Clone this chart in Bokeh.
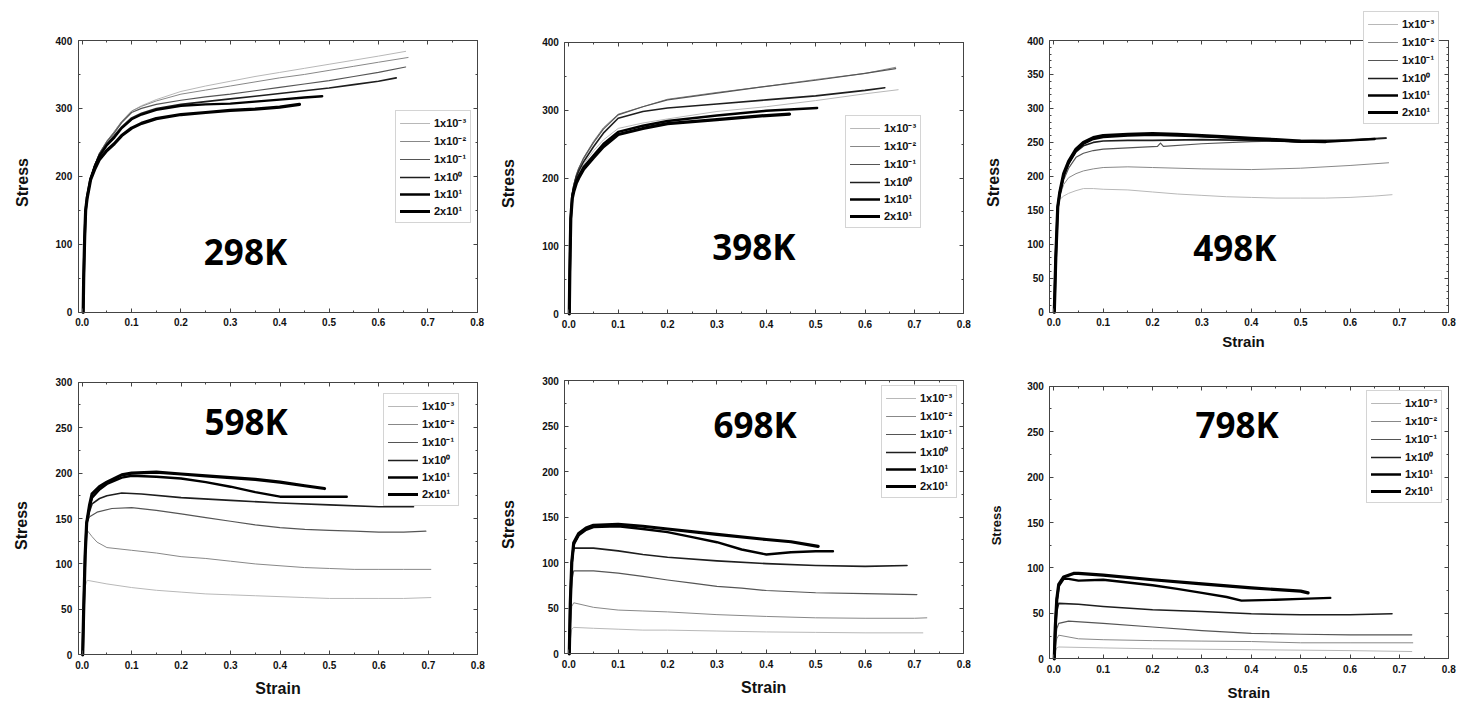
import math
from bokeh.plotting import figure
from bokeh.layouts import row, column
from bokeh.models import (LinearAxis, SingleIntervalTicker, PrintfTickFormatter,
                          Legend, LegendItem, Label, Range1d)
from bokeh.embed import file_html
from bokeh.resources import INLINE

# ---------------- data ----------------
rate_labels = ["1x10\u207b\u00b3", "1x10\u207b\u00b2", "1x10\u207b\u00b9",
               "1x10\u2070", "1x10\u00b9", "2x10\u00b9"]
temp_labels = ["298K", "398K", "498K", "598K", "698K", "798K"]
x_ticks_fmt = "%.1f"

# 298 K
strain_298_1 = [0.002, 0.003, 0.005, 0.007, 0.01, 0.017, 0.025, 0.035, 0.05, 0.065, 0.08, 0.1, 0.12, 0.15, 0.2, 0.25, 0.3, 0.35, 0.4, 0.45, 0.5, 0.55, 0.6, 0.655]
stress_298_1 = [0, 50, 110, 150, 170, 197, 216, 234, 252, 266, 281, 296, 304, 313, 325, 333, 340, 347, 353, 359, 365, 371, 377, 384]
strain_298_2 = [0.002, 0.003, 0.005, 0.007, 0.01, 0.017, 0.025, 0.035, 0.05, 0.065, 0.08, 0.1, 0.12, 0.15, 0.2, 0.25, 0.3, 0.35, 0.4, 0.45, 0.5, 0.55, 0.6, 0.66]
stress_298_2 = [0, 50, 110, 150, 170, 197, 216, 234, 252, 266, 281, 296, 303, 311, 321, 327, 333, 339, 345, 350, 356, 362, 368, 375]
strain_298_3 = [0.002, 0.003, 0.005, 0.007, 0.01, 0.017, 0.025, 0.035, 0.05, 0.065, 0.08, 0.1, 0.12, 0.15, 0.2, 0.25, 0.3, 0.35, 0.4, 0.45, 0.5, 0.55, 0.6, 0.655]
stress_298_3 = [0, 50, 110, 150, 170, 197, 216, 234, 251, 264, 279, 294, 300, 306, 312, 317, 321, 326, 331, 336, 341, 347, 353, 361]
strain_298_4 = [0.002, 0.003, 0.005, 0.007, 0.01, 0.017, 0.025, 0.035, 0.05, 0.065, 0.08, 0.1, 0.12, 0.15, 0.2, 0.25, 0.3, 0.35, 0.4, 0.45, 0.5, 0.55, 0.6, 0.636]
stress_298_4 = [0, 50, 110, 150, 170, 197, 215, 232, 248, 260, 273, 286, 293, 300, 306, 310, 314, 318, 322, 326, 330, 335, 340, 345]
strain_298_5 = [0.002, 0.003, 0.005, 0.007, 0.01, 0.017, 0.025, 0.035, 0.05, 0.065, 0.08, 0.1, 0.12, 0.15, 0.2, 0.25, 0.3, 0.35, 0.4, 0.45, 0.486]
stress_298_5 = [0, 50, 110, 150, 170, 197, 214, 230, 246, 257, 271, 284, 291, 298, 304, 306, 307, 310, 313, 316, 318]
strain_298_6 = [0.002, 0.003, 0.005, 0.007, 0.01, 0.017, 0.025, 0.035, 0.05, 0.065, 0.08, 0.1, 0.12, 0.15, 0.2, 0.25, 0.3, 0.35, 0.4, 0.44]
stress_298_6 = [0, 50, 110, 150, 168, 195, 210, 225, 238, 248, 260, 271, 278, 285, 291, 294, 297, 299, 302, 306]

# 398 K
strain_398_1 = [0.001, 0.002, 0.004, 0.007, 0.01, 0.015, 0.02, 0.03, 0.05, 0.07, 0.1, 0.15, 0.2, 0.3, 0.4, 0.5, 0.6, 0.667]
stress_398_1 = [0, 60, 140, 175, 185, 198, 207, 220, 240, 256, 273, 281, 287, 298, 305, 314, 324, 330]
strain_398_2 = [0.001, 0.002, 0.004, 0.007, 0.01, 0.015, 0.02, 0.03, 0.05, 0.07, 0.1, 0.15, 0.2, 0.3, 0.4, 0.5, 0.6, 0.662]
stress_398_2 = [0, 60, 140, 178, 190, 204, 214, 230, 254, 274, 294, 305, 316, 326, 335, 345, 354, 363]
strain_398_3 = [0.001, 0.002, 0.004, 0.007, 0.01, 0.015, 0.02, 0.03, 0.05, 0.07, 0.1, 0.15, 0.2, 0.3, 0.4, 0.5, 0.6, 0.662]
stress_398_3 = [0, 60, 140, 178, 190, 204, 214, 229, 252, 272, 293, 305, 315, 325, 335, 344, 354, 361]
strain_398_4 = [0.001, 0.002, 0.004, 0.007, 0.01, 0.015, 0.02, 0.03, 0.05, 0.07, 0.1, 0.15, 0.2, 0.3, 0.4, 0.5, 0.6, 0.64]
stress_398_4 = [0, 60, 140, 176, 188, 201, 210, 224, 246, 266, 288, 298, 303, 309, 315, 321, 329, 333]
strain_398_5 = [0.001, 0.002, 0.004, 0.007, 0.01, 0.015, 0.02, 0.03, 0.05, 0.07, 0.1, 0.15, 0.2, 0.3, 0.4, 0.503]
stress_398_5 = [0, 60, 140, 172, 183, 195, 203, 216, 233, 250, 268, 277, 284, 292, 299, 303]
strain_398_6 = [0.001, 0.002, 0.004, 0.007, 0.01, 0.015, 0.02, 0.03, 0.05, 0.07, 0.1, 0.15, 0.2, 0.3, 0.4, 0.447]
stress_398_6 = [0, 60, 140, 170, 180, 192, 200, 213, 230, 246, 264, 273, 280, 286, 292, 294]

# 498 K
strain_498_1 = [0.001, 0.004, 0.008, 0.012, 0.02, 0.03, 0.045, 0.06, 0.08, 0.1, 0.15, 0.2, 0.25, 0.3, 0.35, 0.4, 0.45, 0.5, 0.55, 0.6, 0.65, 0.685]
stress_498_1 = [0, 80, 155, 166, 171, 175, 179, 182, 182, 181, 180, 177, 174, 172, 170, 169, 168, 168, 168, 169, 171, 173]
strain_498_2 = [0.001, 0.004, 0.008, 0.012, 0.02, 0.03, 0.045, 0.06, 0.08, 0.1, 0.15, 0.2, 0.3, 0.4, 0.5, 0.6, 0.678]
stress_498_2 = [0, 80, 155, 170, 188, 198, 204, 208, 211, 213, 214, 213, 211, 210, 212, 216, 220]
strain_498_3 = [0.001, 0.004, 0.008, 0.012, 0.02, 0.03, 0.045, 0.06, 0.08, 0.1, 0.15, 0.21, 0.216, 0.222, 0.3, 0.4, 0.5, 0.6, 0.673]
stress_498_3 = [0, 80, 155, 172, 195, 212, 228, 234, 238, 240, 242, 244, 249, 244, 248, 251, 253, 254, 257]
strain_498_4 = [0.001, 0.004, 0.008, 0.012, 0.02, 0.03, 0.045, 0.06, 0.08, 0.1, 0.15, 0.2, 0.3, 0.4, 0.5, 0.6, 0.673]
stress_498_4 = [0, 80, 155, 174, 200, 218, 236, 245, 250, 252, 253, 253, 254, 253, 251, 253, 256]
strain_498_5 = [0.001, 0.004, 0.008, 0.012, 0.02, 0.03, 0.045, 0.06, 0.08, 0.1, 0.15, 0.2, 0.25, 0.3, 0.35, 0.4, 0.45, 0.5, 0.55, 0.6, 0.65]
stress_498_5 = [0, 80, 155, 175, 202, 220, 238, 248, 255, 258, 260, 261, 260, 259, 257, 255, 253, 251, 251, 253, 255]
strain_498_6 = [0.001, 0.004, 0.008, 0.012, 0.02, 0.03, 0.045, 0.06, 0.08, 0.1, 0.15, 0.2, 0.25, 0.3, 0.35, 0.4, 0.45, 0.5, 0.55]
stress_498_6 = [0, 80, 155, 176, 204, 222, 240, 250, 257, 260, 262, 263, 262, 260, 258, 256, 254, 252, 251]

# 598 K
strain_598_1 = [0.001, 0.003, 0.006, 0.01, 0.03, 0.05, 0.1, 0.15, 0.2, 0.25, 0.3, 0.35, 0.4, 0.45, 0.5, 0.55, 0.6, 0.65, 0.705]
stress_598_1 = [0, 40, 75, 82, 80, 78, 74, 71, 69, 67, 66, 65, 64, 63, 62, 62, 62, 62, 63]
strain_598_2 = [0.001, 0.003, 0.006, 0.01, 0.02, 0.03, 0.05, 0.1, 0.15, 0.2, 0.25, 0.3, 0.35, 0.4, 0.45, 0.5, 0.55, 0.6, 0.65, 0.705]
stress_598_2 = [0, 50, 110, 137, 130, 124, 118, 115, 112, 108, 106, 103, 100, 98, 96, 95, 94, 94, 94, 94]
strain_598_3 = [0.001, 0.003, 0.006, 0.009, 0.015, 0.03, 0.06, 0.1, 0.15, 0.2, 0.25, 0.3, 0.35, 0.4, 0.45, 0.5, 0.55, 0.6, 0.65, 0.695]
stress_598_3 = [0, 50, 110, 145, 152, 157, 161, 162, 159, 155, 151, 147, 143, 140, 138, 137, 136, 135, 135, 136]
strain_598_4 = [0.001, 0.003, 0.006, 0.009, 0.015, 0.02, 0.035, 0.05, 0.08, 0.12, 0.2, 0.3, 0.4, 0.5, 0.6, 0.67]
stress_598_4 = [0, 50, 110, 145, 158, 166, 172, 175, 178, 177, 173, 170, 167, 165, 163, 163]
strain_598_5 = [0.001, 0.003, 0.006, 0.009, 0.015, 0.02, 0.035, 0.05, 0.08, 0.1, 0.15, 0.2, 0.25, 0.3, 0.35, 0.4, 0.45, 0.5, 0.535]
stress_598_5 = [0, 50, 110, 145, 163, 173, 182, 188, 195, 197, 196, 194, 190, 185, 179, 174, 174, 174, 174]
strain_598_6 = [0.001, 0.003, 0.006, 0.009, 0.015, 0.02, 0.035, 0.05, 0.08, 0.1, 0.15, 0.2, 0.25, 0.3, 0.35, 0.4, 0.45, 0.49]
stress_598_6 = [0, 50, 110, 145, 165, 177, 185, 190, 198, 200, 201, 199, 197, 195, 193, 190, 186, 183]

# 698 K
strain_698_1 = [0.001, 0.003, 0.006, 0.01, 0.05, 0.1, 0.15, 0.2, 0.3, 0.4, 0.5, 0.6, 0.717]
stress_698_1 = [0, 15, 27, 29, 28, 27, 26, 26, 25, 24, 23.5, 23, 23]
strain_698_2 = [0.001, 0.003, 0.006, 0.01, 0.05, 0.1, 0.15, 0.2, 0.3, 0.4, 0.5, 0.6, 0.7, 0.725]
stress_698_2 = [0, 30, 52, 56, 51, 48, 47, 46, 43, 41, 39.5, 39, 39, 39.5]
strain_698_3 = [0.001, 0.003, 0.006, 0.01, 0.05, 0.1, 0.15, 0.2, 0.25, 0.3, 0.35, 0.4, 0.5, 0.6, 0.705]
stress_698_3 = [0, 45, 80, 91, 91, 88.5, 85, 81, 77.5, 74, 72, 69.5, 67, 66, 65]
strain_698_4 = [0.001, 0.003, 0.006, 0.01, 0.05, 0.1, 0.15, 0.2, 0.3, 0.4, 0.5, 0.6, 0.685]
stress_698_4 = [0, 55, 100, 116, 116, 113, 109, 106, 102, 99, 97, 96, 97]
strain_698_5 = [0.001, 0.003, 0.006, 0.01, 0.02, 0.035, 0.05, 0.1, 0.15, 0.2, 0.25, 0.3, 0.35, 0.4, 0.45, 0.5, 0.535]
stress_698_5 = [0, 55, 100, 120, 130, 136, 139, 140, 137, 133.5, 128, 122.5, 114.5, 109, 111.5, 112.5, 112.5]
strain_698_6 = [0.001, 0.003, 0.006, 0.01, 0.02, 0.035, 0.05, 0.1, 0.15, 0.2, 0.3, 0.4, 0.45, 0.505]
stress_698_6 = [0, 55, 100, 122, 132, 138, 141, 142, 140, 137, 131, 125.5, 123, 118]

# 798 K
strain_798_1 = [0.001, 0.003, 0.006, 0.01, 0.1, 0.2, 0.3, 0.4, 0.5, 0.6, 0.725]
stress_798_1 = [0, 8, 12, 13, 12, 11, 10.5, 10, 9.5, 9, 8]
strain_798_2 = [0.001, 0.003, 0.006, 0.01, 0.05, 0.1, 0.2, 0.3, 0.4, 0.5, 0.6, 0.727]
stress_798_2 = [0, 12, 22, 26, 22, 21, 20, 19.5, 19, 17.6, 17.6, 17.6]
strain_798_3 = [0.001, 0.003, 0.006, 0.01, 0.03, 0.1, 0.2, 0.3, 0.4, 0.5, 0.6, 0.725]
stress_798_3 = [0, 18, 33, 39, 41.5, 39, 35, 31, 28, 27, 26.4, 26.4]
strain_798_4 = [0.001, 0.003, 0.006, 0.01, 0.05, 0.1, 0.2, 0.3, 0.4, 0.5, 0.6, 0.685]
stress_798_4 = [0, 28, 52, 61, 60, 57.6, 54, 52, 49.5, 48.4, 48.4, 49.5]
strain_798_5 = [0.001, 0.003, 0.006, 0.01, 0.02, 0.03, 0.05, 0.1, 0.15, 0.2, 0.25, 0.3, 0.35, 0.38, 0.45, 0.5, 0.56]
stress_798_5 = [0, 35, 65, 80, 88, 88, 86, 87, 84, 81, 77, 72.6, 68, 64, 65, 66, 67]
strain_798_6 = [0.001, 0.003, 0.006, 0.01, 0.02, 0.04, 0.05, 0.1, 0.2, 0.3, 0.4, 0.5, 0.515]
stress_798_6 = [0, 35, 65, 82, 90, 94, 94, 92, 87, 82.5, 78, 74.5, 72.6]

curves = {
    "298K": [(strain_298_1, stress_298_1), (strain_298_2, stress_298_2), (strain_298_3, stress_298_3),
             (strain_298_4, stress_298_4), (strain_298_5, stress_298_5), (strain_298_6, stress_298_6)],
    "398K": [(strain_398_1, stress_398_1), (strain_398_2, stress_398_2), (strain_398_3, stress_398_3),
             (strain_398_4, stress_398_4), (strain_398_5, stress_398_5), (strain_398_6, stress_398_6)],
    "498K": [(strain_498_1, stress_498_1), (strain_498_2, stress_498_2), (strain_498_3, stress_498_3),
             (strain_498_4, stress_498_4), (strain_498_5, stress_498_5), (strain_498_6, stress_498_6)],
    "598K": [(strain_598_1, stress_598_1), (strain_598_2, stress_598_2), (strain_598_3, stress_598_3),
             (strain_598_4, stress_598_4), (strain_598_5, stress_598_5), (strain_598_6, stress_598_6)],
    "698K": [(strain_698_1, stress_698_1), (strain_698_2, stress_698_2), (strain_698_3, stress_698_3),
             (strain_698_4, stress_698_4), (strain_698_5, stress_698_5), (strain_698_6, stress_698_6)],
    "798K": [(strain_798_1, stress_798_1), (strain_798_2, stress_798_2), (strain_798_3, stress_798_3),
             (strain_798_4, stress_798_4), (strain_798_5, stress_798_5), (strain_798_6, stress_798_6)],
}

# ---------------- styles / layout ----------------
line_colors = ["#b8b8b8", "#888888", "#555555", "#1e1e1e", "#000000", "#000000"]
line_widths = [1.0, 1.0, 1.2, 1.6, 2.4, 3.2]
FONT = "Liberation Sans"
BIG_FONT = "Open Sans"
AXIS_COLOR = "#444444"
X_BOX_LO = -0.008
X_MAX = 0.8

# The plot frame covers each whole figure; the axes box is drawn with fixed-location axes.
# Pixel positions below are relative to each figure's top-left corner.
panels = [
    dict(t="298K", w=490, h=350, x0=81.7, x8=476.7, y0=311.7, ym=40.0, ymax=400, yint=100, ymin=2,
         leg=(395, 223), tl=(245, 250.5), st=(22, 182, 16), sn=None),
    dict(t="398K", w=490, h=350, x0=78.3, x8=473.3, y0=313.3, ym=41.7, ymax=400, yint=100, ymin=2,
         leg=(355, 228), tl=(263.3, 245.8), st=(18, 183, 16), sn=None),
    dict(t="498K", w=489, h=350, x0=73.3, x8=468.3, y0=311.7, ym=40.0, ymax=400, yint=50, ymin=5,
         leg=(383, 124), tl=(254.3, 247), st=(13.3, 182, 16), sn=(263, 349, 15, "bottom")),
    dict(t="598K", w=490, h=351, x0=81.7, x8=477.3, y0=304.3, ym=31.7, ymax=300, yint=50, ymin=2,
         leg=(383, 156), tl=(245.7, 71), st=(21, 175, 16), sn=(277.5, 338, 16, "middle")),
    dict(t="698K", w=490, h=351, x0=78.3, x8=473.3, y0=303.3, ym=30.0, ymax=300, yint=50, ymin=2,
         leg=(391, 148), tl=(264.7, 73.8), st=(17.5, 174, 16), sn=(273.2, 337, 16, "middle")),
    dict(t="798K", w=489, h=351, x0=73.3, x8=468.3, y0=308.3, ym=35.7, ymax=300, yint=50, ymin=2,
         leg=(386, 153), tl=(256.7, 74.2), st=(16, 175, 13), sn=(268.3, 341.7, 15, "middle")),
]


def style_axis(ax, show_labels):
    ax.axis_line_color = AXIS_COLOR
    ax.axis_line_width = 1
    ax.major_tick_line_color = AXIS_COLOR
    ax.minor_tick_line_color = AXIS_COLOR
    ax.major_tick_in = 4
    ax.major_tick_out = 0
    ax.minor_tick_in = 2
    ax.minor_tick_out = 0
    if show_labels:
        ax.major_label_text_font = FONT
        ax.major_label_text_font_style = "bold"
        ax.major_label_text_font_size = "10px"
        ax.major_label_text_color = "#111111"
        ax.major_label_standoff = 6
    else:
        ax.major_label_text_font_size = "0px"
        ax.major_label_standoff = 0
        ax.major_label_text_color = None


def make_panel(cfg):
    w, h = cfg["w"], cfg["h"]
    sx = (cfg["x8"] - cfg["x0"]) / X_MAX
    sy = (cfg["y0"] - cfg["ym"]) / cfg["ymax"]

    def to_data(px, py):
        return ((px - cfg["x0"]) / sx, (cfg["y0"] - py) / sy)

    x_lo, y_hi = to_data(0, 0)
    x_hi, y_lo = to_data(w, h)
    p = figure(width=w, height=h, output_backend="svg", toolbar_location=None,
               x_range=Range1d(x_lo, x_hi), y_range=Range1d(y_lo, y_hi),
               x_axis_type=None, y_axis_type=None)
    p.min_border = 0
    p.min_border_left = 0
    p.min_border_right = 0
    p.min_border_top = 0
    p.min_border_bottom = 0
    p.outline_line_color = None
    p.background_fill_color = "white"
    p.border_fill_color = "white"

    xbounds = (X_BOX_LO, X_MAX)
    ybounds = (0, cfg["ymax"])
    xb = LinearAxis(ticker=SingleIntervalTicker(interval=0.1, num_minor_ticks=2),
                    formatter=PrintfTickFormatter(format=x_ticks_fmt),
                    fixed_location=0, bounds=xbounds)
    style_axis(xb, True)
    xt = LinearAxis(ticker=SingleIntervalTicker(interval=0.1, num_minor_ticks=2),
                    fixed_location=cfg["ymax"], bounds=xbounds)
    style_axis(xt, False)
    yl = LinearAxis(ticker=SingleIntervalTicker(interval=cfg["yint"], num_minor_ticks=cfg["ymin"]),
                    fixed_location=X_BOX_LO, bounds=ybounds)
    style_axis(yl, True)
    yr = LinearAxis(ticker=SingleIntervalTicker(interval=cfg["yint"], num_minor_ticks=cfg["ymin"]),
                    fixed_location=X_MAX, bounds=ybounds)
    style_axis(yr, False)
    p.add_layout(xb, "below")
    p.add_layout(yl, "left")
    p.add_layout(xt, "above")
    p.add_layout(yr, "right")

    items = []
    for k, (xs, ys) in enumerate(curves[cfg["t"]]):
        rr = p.line(xs, ys, line_color=line_colors[k], line_width=line_widths[k],
                    line_join="round", line_cap="round")
        items.append(LegendItem(label=rate_labels[k], renderers=[rr]))

    lpx, lpy = cfg["leg"]
    leg = Legend(items=items, location=(lpx, h - lpy), orientation="vertical",
                 label_text_font=FONT, label_text_font_style="bold",
                 label_text_font_size="11px", label_text_color="#111111",
                 glyph_width=30, glyph_height=14, label_height=14,
                 label_standoff=4, spacing=3, padding=4, margin=0,
                 border_line_color="#aaaaaa", border_line_width=1,
                 background_fill_color="white", background_fill_alpha=1.0)
    p.add_layout(leg)

    tx, ty = to_data(*cfg["tl"])
    p.add_layout(Label(x=tx, y=ty, text=cfg["t"], text_font=BIG_FONT, text_font_style="bold",
                       text_font_size="35px", text_align="center", text_baseline="middle",
                       text_color="#000000"))

    spx, spy, sfs = cfg["st"]
    stx, sty = to_data(spx, spy)
    p.add_layout(Label(x=stx, y=sty, text="Stress", angle=math.pi / 2, text_font=FONT,
                       text_font_style="bold", text_font_size="%dpx" % sfs,
                       text_align="center", text_baseline="middle", text_color="#111111"))
    if cfg["sn"] is not None:
        npx, npy, nfs, bl = cfg["sn"]
        nx, ny = to_data(npx, npy)
        p.add_layout(Label(x=nx, y=ny, text="Strain", text_font=FONT, text_font_style="bold",
                           text_font_size="%dpx" % nfs, text_align="center", text_baseline=bl,
                           text_color="#111111"))
    return p


figs = [make_panel(c) for c in panels]
layout = column(row(figs[0], figs[1], figs[2], spacing=0),
                row(figs[3], figs[4], figs[5], spacing=0), spacing=0)

open("out.html", "w").write(file_html(layout, INLINE))
